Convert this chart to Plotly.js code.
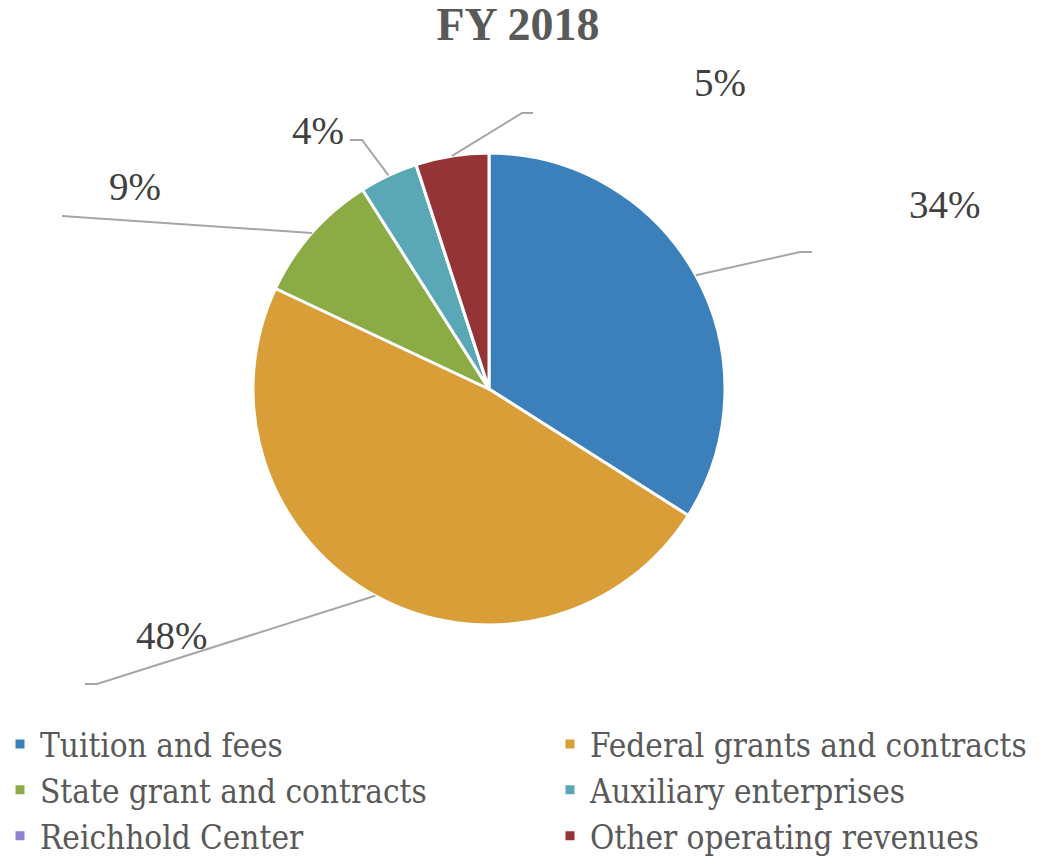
<!DOCTYPE html>
<html>
<head>
<meta charset="utf-8">
<script src="https://cdn.plot.ly/plotly-3.0.1.min.js"></script>
<style>
html, body { margin: 0; padding: 0; background: #ffffff; overflow: hidden; }
#wrap { width: 1046px; height: 864px; overflow: hidden; }
#chart { width: 1300px; height: 864px; }
</style>
</head>
<body>
<div id="wrap"><div id="chart"></div></div>
<script>
// ---- data ----
const categories = [
  'Tuition and fees',
  'Federal grants and contracts',
  'State grant and contracts',
  'Auxiliary enterprises',
  'Reichhold Center',
  'Other operating revenues'
];
const values = [34, 48, 9, 4, 0, 5];
const colors = ['#3B80BB', '#D99E38', '#8BAC45', '#5AA8B6', '#8E83D3', '#953436'];
const chartTitle = 'FY 2018';

// ---- layout config (pixels) ----
const W = 1300, H = 864;   // layout canvas (visible window is 1046 wide)
const cx = 489, cy = 389, R = 236;
// label centre and leader-line elbow/end per slice (null = no label)
const labelCfg = [
  {tx: 945, ty: 205, pts: [[800, 252], [812, 252]]},
  {tx: 172, ty: 635, pts: [[97, 684], [85, 684]]},
  {tx: 135, ty: 187, pts: [[62, 216]]},
  {tx: 318, ty: 130, pts: [[362, 140], [350, 140]]},
  null,
  {tx: 720, ty: 83, pts: [[522, 113], [533, 113]]}
];

const px = x => x / W;
const py = y => 1 - y / H;

const total = values.reduce((a, b) => a + b, 0);
let cum = 0;
const annotations = [];
const shapes = [];
values.forEach((v, i) => {
  const mid = (cum + v / 2) / total * 2 * Math.PI;
  cum += v;
  const cfg = labelCfg[i];
  if (!cfg) return;
  const ax = cx + R * Math.sin(mid);
  const ay = cy - R * Math.cos(mid);
  const pct = Math.round(v / total * 100) + '%';
  annotations.push({
    text: pct, x: px(cfg.tx), y: py(cfg.ty), xref: 'paper', yref: 'paper',
    xanchor: 'center', yanchor: 'middle', showarrow: false,
    font: {family: 'Liberation Serif, serif', size: 39, color: '#404040'}
  });
  let path = 'M ' + px(ax) + ',' + py(ay);
  cfg.pts.forEach(p => { path += ' L ' + px(p[0]) + ',' + py(p[1]); });
  shapes.push({type: 'path', xref: 'paper', yref: 'paper', path: path,
    line: {color: '#A6A6A6', width: 2}});
});

const trace = {
  type: 'pie',
  labels: categories,
  values: values,
  sort: false,
  direction: 'clockwise',
  rotation: 0,
  textinfo: 'none',
  hoverinfo: 'label+percent',
  marker: {colors: colors, line: {color: '#ffffff', width: 3}},
  domain: {x: [px(cx - R), px(cx + R)], y: [py(cy + R), py(cy - R)]},
  showlegend: true
};

const layout = {
  width: W, height: H,
  margin: {l: 0, r: 0, t: 0, b: 0},
  paper_bgcolor: '#ffffff',
  title: {
    text: '<b>' + chartTitle + '</b>',
    x: px(518), xanchor: 'center', y: py(24), yanchor: 'middle',
    font: {family: 'Liberation Serif, serif', size: 46, color: '#595959'}
  },
  showlegend: true,
  legend: {
    orientation: 'h',
    x: 0, xanchor: 'left',
    y: 0, yanchor: 'bottom',
    bgcolor: 'rgba(0,0,0,0)',
    entrywidth: 505, entrywidthmode: 'pixels',
    font: {family: 'DejaVu Serif Condensed, Liberation Serif, serif', size: 33, color: '#595959'},
    itemclick: false, itemdoubleclick: false,
    traceorder: 'normal'
  },
  annotations: annotations,
  shapes: shapes
};

Plotly.newPlot('chart', [trace], layout, {displayModeBar: false, staticPlot: true});
</script>
</body>
</html>
